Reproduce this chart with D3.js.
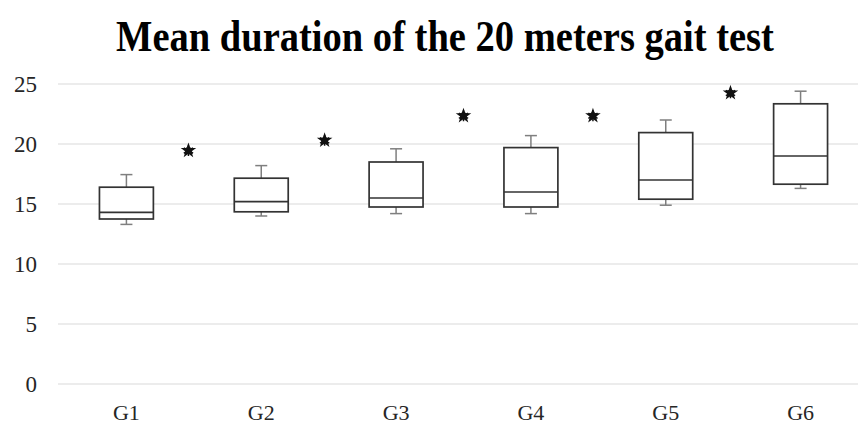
<!DOCTYPE html>
<html>
<head>
<meta charset="utf-8">
<script src="https://cdn.jsdelivr.net/npm/d3@7"></script>
<style>
  body { margin: 0; background: #fff; }
  svg { display: block; }
  text { font-family: "Liberation Serif", "Times New Roman", serif; }
</style>
</head>
<body>
<svg id="chart" width="858" height="425"></svg>
<script>
// box plot data
const groups = ['G1', 'G2', 'G3', 'G4', 'G5', 'G6'];
const whiskerLow = [13.3, 14.0, 14.2, 14.2, 14.9, 16.3];
const q1 = [13.75, 14.35, 14.75, 14.75, 15.4, 16.65];
const median = [14.3, 15.2, 15.5, 16.0, 17.0, 19.0];
const q3 = [16.4, 17.15, 18.5, 19.7, 20.95, 23.35];
const whiskerHigh = [17.45, 18.2, 19.6, 20.7, 22.0, 24.4];

// significance markers sit between groups (position in group-index units)
const starPos = [0.46, 1.47, 2.5, 3.46, 4.48];
const starValue = [19.45, 20.3, 22.35, 22.35, 24.25];

const yTicks = [0, 5, 10, 15, 20, 25];

const svg = d3.select('#chart');
const width = 858;

const x = d3.scaleBand()
    .domain(groups)
    .range([59, 868])
    .padding(0);

const y = d3.scaleLinear()
    .domain([0, 25])
    .range([384, 84]);

const boxW = x.bandwidth() * 0.4;
const capW = 12;
const cx = d => x(d) + x.bandwidth() / 2;

// Title (the original font is narrow, so squeeze it horizontally)
const titleWidth = 658;
const title = svg.append('text')
    .attr('x', 0)
    .attr('y', 0)
    .attr('text-anchor', 'middle')
    .attr('font-weight', 'bold')
    .attr('font-size', 44)
    .attr('fill', '#000')
    .text('Mean duration of the 20 meters gait test');
const sx = titleWidth / title.node().getComputedTextLength();
title.attr('transform', `translate(445,51) scale(${sx},1)`);

// Gridlines
svg.append('g')
    .selectAll('line')
    .data(yTicks)
    .enter()
    .append('line')
    .attr('x1', 58)
    .attr('x2', width)
    .attr('y1', d => y(d))
    .attr('y2', d => y(d))
    .attr('stroke', '#d9d9d9')
    .attr('stroke-width', 1.2);

// Y axis labels
svg.append('g')
    .selectAll('text')
    .data(yTicks)
    .enter()
    .append('text')
    .attr('x', 37)
    .attr('y', d => y(d))
    .attr('dy', '0.35em')
    .attr('text-anchor', 'end')
    .attr('font-size', 23)
    .attr('fill', '#262626')
    .text(d => d);

// X axis labels
svg.append('g')
    .selectAll('text')
    .data(groups)
    .enter()
    .append('text')
    .attr('x', d => cx(d))
    .attr('y', 420)
    .attr('text-anchor', 'middle')
    .attr('font-size', 22)
    .attr('fill', '#262626')
    .text(d => d);

// Boxes
const boxes = svg.append('g')
    .selectAll('g')
    .data(groups)
    .enter()
    .append('g');

// whiskers
boxes.append('line')
    .attr('x1', d => cx(d)).attr('x2', d => cx(d))
    .attr('y1', (d, i) => y(whiskerHigh[i]))
    .attr('y2', (d, i) => y(q3[i]))
    .attr('stroke', '#7f7f7f').attr('stroke-width', 1.5);
boxes.append('line')
    .attr('x1', d => cx(d)).attr('x2', d => cx(d))
    .attr('y1', (d, i) => y(q1[i]))
    .attr('y2', (d, i) => y(whiskerLow[i]))
    .attr('stroke', '#7f7f7f').attr('stroke-width', 1.5);
boxes.append('line')
    .attr('x1', d => cx(d) - capW / 2).attr('x2', d => cx(d) + capW / 2)
    .attr('y1', (d, i) => y(whiskerHigh[i]))
    .attr('y2', (d, i) => y(whiskerHigh[i]))
    .attr('stroke', '#7f7f7f').attr('stroke-width', 1.5);
boxes.append('line')
    .attr('x1', d => cx(d) - capW / 2).attr('x2', d => cx(d) + capW / 2)
    .attr('y1', (d, i) => y(whiskerLow[i]))
    .attr('y2', (d, i) => y(whiskerLow[i]))
    .attr('stroke', '#7f7f7f').attr('stroke-width', 1.5);

// box
boxes.append('rect')
    .attr('x', d => cx(d) - boxW / 2)
    .attr('y', (d, i) => y(q3[i]))
    .attr('width', boxW)
    .attr('height', (d, i) => y(q1[i]) - y(q3[i]))
    .attr('fill', '#fff')
    .attr('stroke', '#333')
    .attr('stroke-width', 1.7);

// median
boxes.append('line')
    .attr('x1', d => cx(d) - boxW / 2).attr('x2', d => cx(d) + boxW / 2)
    .attr('y1', (d, i) => y(median[i]))
    .attr('y2', (d, i) => y(median[i]))
    .attr('stroke', '#333').attr('stroke-width', 1.7);

// Stars
const x0 = cx(groups[0]);
const star = d3.symbol().type(d3.symbolStar).size(75);
const ast = d3.symbol().type(d3.symbolAsterisk).size(80);
const stars = svg.append('g')
    .selectAll('g')
    .data(starPos)
    .enter()
    .append('g')
    .attr('transform', (d, i) => `translate(${x0 + d * x.step()},${y(starValue[i])})`);
stars.append('path')
    .attr('d', star)
    .attr('fill', '#111');
stars.append('path')
    .attr('d', ast)
    .attr('fill', 'none')
    .attr('stroke', '#111')
    .attr('stroke-width', 1.5);
stars.append('circle')
    .attr('r', 3.5)
    .attr('fill', '#111');
</script>
</body>
</html>
